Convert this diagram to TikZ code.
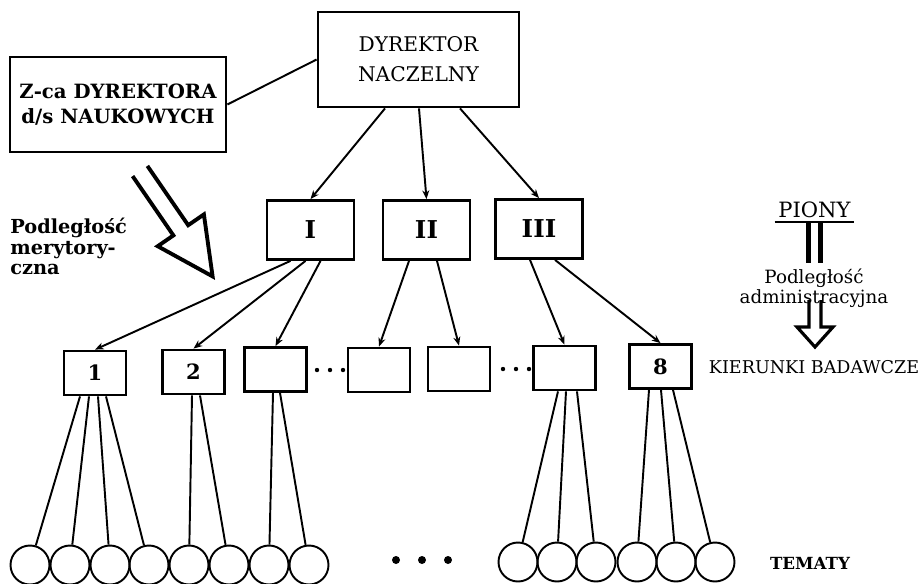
\documentclass[tikz,border=0pt]{standalone}
\usepackage{fontspec}
\setmainfont{DejaVu Serif}
\usetikzlibrary{arrows.meta,calc}
\begin{document}
\begin{tikzpicture}[x=0.02cm, y=-0.02cm,
  box/.style={draw, line width=1.6pt, inner sep=0pt, align=center},
  pion/.style={box, minimum width=1.74cm, minimum height=1.18cm, font=\bfseries\fontsize{14}{16}\selectfont},
  kier/.style={box, minimum width=1.24cm, minimum height=0.88cm, font=\bfseries\fontsize{12}{14}\selectfont},
  temat/.style={draw, circle, line width=1.1pt, minimum size=0.78cm, inner sep=0pt},
  link/.style={line width=1.1pt},
  sub/.style={link, -{Stealth[length=5pt, width=4pt]}},
  hollow/.style={line width=2.2pt, line join=miter}]
  \useasboundingbox (0,0) rectangle (920,583);

  \node[box, minimum width=4.02cm, minimum height=1.9cm, font=\fontsize{11.5}{17}\selectfont] (dn) at (418.5,59.5) {DYREKTOR\\NACZELNY};
  \node[box, minimum width=4.32cm, minimum height=1.9cm, font=\bfseries\fontsize{11.2}{14}\selectfont] (zca) at (118,104.5) {Z-ca DYREKTORA\\d/s NAUKOWYCH};
  \draw[link] (zca.east) -- (dn.west);

  \node[pion] (kI) at (310.5,230) {I};
  \node[pion] (kII) at (426.5,230) {II};
  \node[pion] (kIII) at (539,229) {III};
  \draw[sub] ($(dn.south)+(-33.5,0)$) -- (kI.north);
  \draw[sub] ($(dn.south)+(0.5,0)$) -- (kII.north);
  \draw[sub] ($(dn.south)+(41.5,0)$) -- (kIII.north);

  \foreach \n/\x/\y/\t in {1/95/373/1, 2/193.5/372/2, 3/275.5/369.5/, 4/379/370/, 5/459/369/, 6/564.5/368/, 8/660.5/366.5/8}
    \node[kier] (b\n) at (\x,\y) {\t};
  \draw[sub] ($(kI.south)+(-20,0)$) -- (b1.north);
  \draw[sub] ($(kI.south)+(-5,0)$) -- (b2.north);
  \draw[sub] ($(kI.south)+(10,0)$) -- (b3.north);
  \draw[sub] ($(kII.south)+(-17.5,0)$) -- (b4.north);
  \draw[sub] ($(kII.south)+(10.5,0)$) -- (b5.north);
  \draw[sub] ($(kIII.south)+(-9,0)$) -- (b6.north);
  \draw[sub] ($(kIII.south)+(16,0)$) -- (b8.north);
  \foreach \x in {317,330,343} \fill (\x,370) circle[radius=0.044cm];
  \foreach \x in {503,516,529} \fill (\x,369) circle[radius=0.044cm];

  \foreach \i/\x in {1/30, 2/70, 3/110, 4/149, 5/189, 6/229, 7/269, 8/309}
    \node[temat] (t\i) at (\x,565) {};
  \foreach \i/\x in {9/518, 10/557, 11/596, 12/637, 13/676, 14/715}
    \node[temat] (t\i) at (\x,562) {};
  \foreach \b/\dx/\t in {1/-15/1, 1/-6/2, 1/3/3, 1/11/4, 2/-1.5/5, 2/6.5/6, 3/-2.5/7, 3/4.5/8,
                         6/-6.5/9, 6/1.5/10, 6/12.5/11, 8/-11.5/12, 8/0.5/13, 8/12.5/14}
    \draw[link] ($(b\b.south)+(\dx,0)$) -- (t\t);
  \foreach \x in {396,422,448} \fill (\x,560) circle[radius=0.08cm];

  \node[anchor=north west, align=left, inner sep=0pt, font=\bfseries\fontsize{11}{11.5}\selectfont] (pm) at (10,218) {Podległość\\merytory-\\czna};
  \draw[hollow] (132.6,176.1) -- (173.4,235.4) -- (157.7,246.2) -- (212.6,276.4)
    -- (203.9,214.4) -- (188.2,225.2) -- (147.4,165.9);

  \node[anchor=south, inner sep=2pt, font=\fontsize{12}{14}\selectfont] (piony) at (814.5,222) {PIONY};
  \draw[link] (piony.south west) -- (piony.south east);
  \draw[line width=2.4pt] ($(piony.south)+(-6,0)$) -- ++(0,41);
  \draw[line width=2.4pt] ($(piony.south)+(6,0)$) -- ++(0,41);
  \node[align=center, font=\fontsize{10.4}{11.3}\selectfont] (pa) at (814,288) {Podległość\\administracyjna};
  \draw[hollow, line width=1.8pt] (809,300) -- (809,327) -- (797,327) -- (815,347) -- (833,327) -- (821,327) -- (821,300);
  \node[font=\fontsize{10}{12}\selectfont] (kb) at (814,367) {KIERUNKI BADAWCZE};
  \node[font=\bfseries\fontsize{9.5}{12}\selectfont] (tm) at (810,563) {TEMATY};
\end{tikzpicture}
\end{document}
